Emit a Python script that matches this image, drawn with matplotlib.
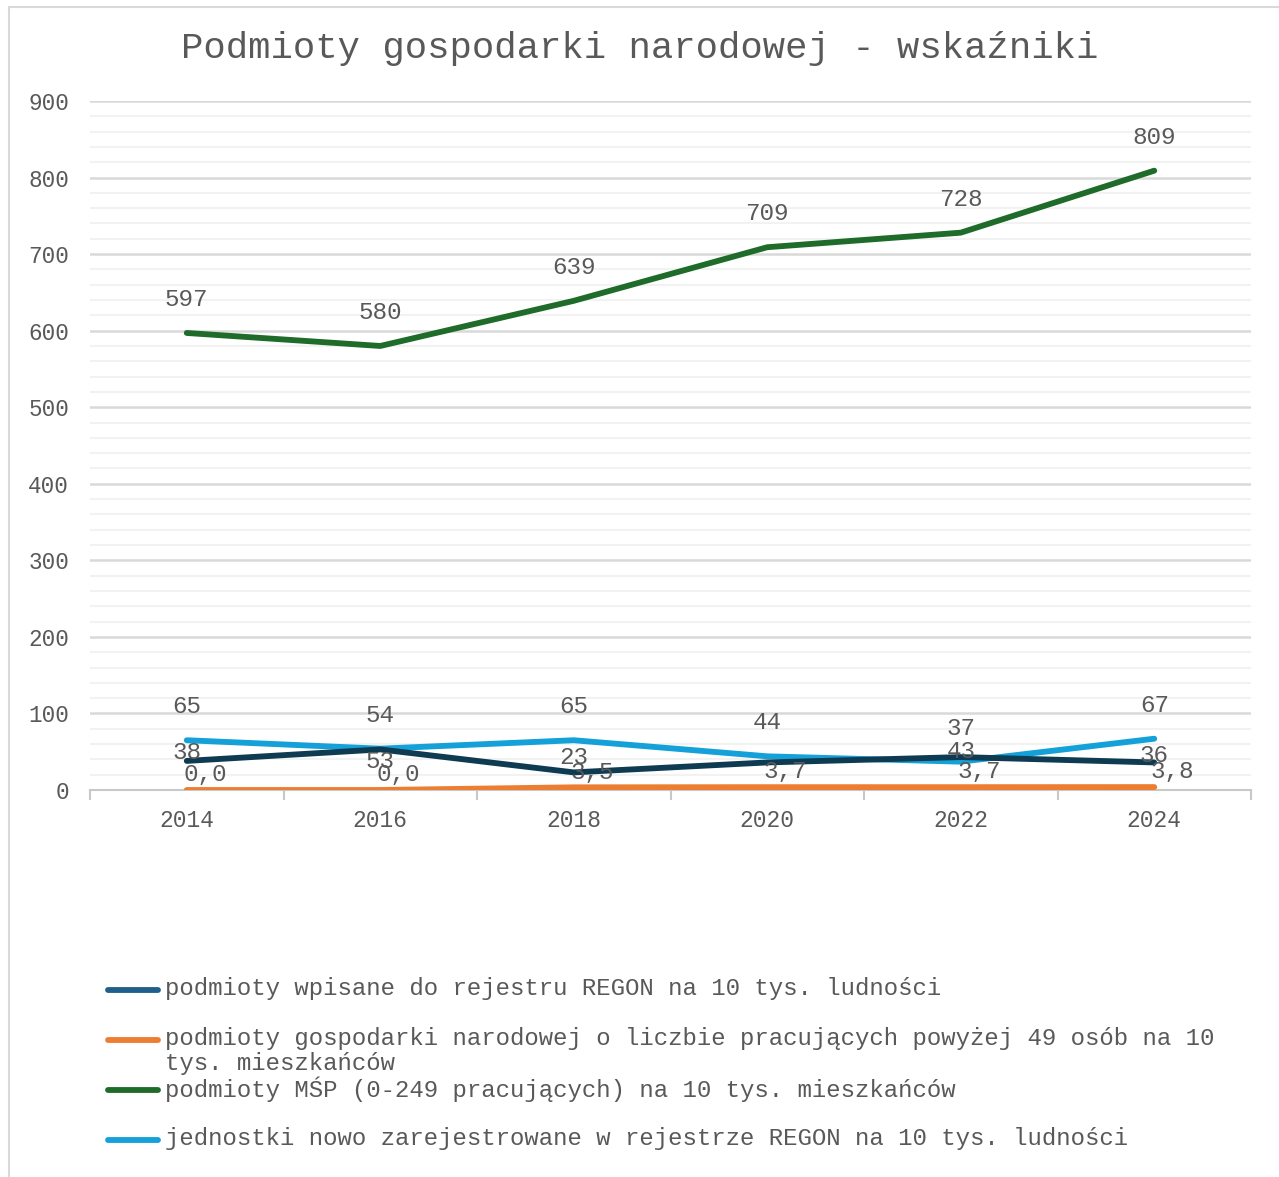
import matplotlib
matplotlib.use("Agg")
import matplotlib.pyplot as plt
from matplotlib.lines import Line2D
from matplotlib.patches import Rectangle
from matplotlib.ticker import MultipleLocator

plt.rcParams['font.family'] = ['Liberation Mono', 'DejaVu Sans Mono', 'DejaVu Sans']

years = ["2014", "2016", "2018", "2020", "2022", "2024"]
regon = [38, 53, 23, 36, 43, 36]
regon_labels = ["38", "53", "23", None, "43", "36"]
large = [0.0, 0.0, 3.5, 3.7, 3.7, 3.8]
msp = [597, 580, 639, 709, 728, 809]
new_units = [65, 54, 65, 44, 37, 67]

names = [
    "podmioty wpisane do rejestru REGON na 10 tys. ludności",
    "podmioty gospodarki narodowej o liczbie pracujących powyżej 49 osób na 10\ntys. mieszkańców",
    "podmioty MŚP (0-249 pracujących) na 10 tys. mieszkańców",
    "jednostki nowo zarejestrowane w rejestrze REGON na 10 tys. ludności",
]
title = "Podmioty gospodarki narodowej - wskaźniki"

c_navy = "#0E3A52"
c_navy_leg = "#1F5F8B"
c_orange = "#ED7D31"
c_green = "#1E6B2A"
c_cyan = "#14A0D8"
txt = "#595959"

W, H = 1279, 1177
fig = plt.figure(figsize=(W / 100, H / 100), dpi=100)
fig.patch.set_facecolor("white")

# border
fig.patches.append(Rectangle((9 / W, -0.1), 1.2, 1.1 - 7 / H, transform=fig.transFigure,
                             fill=False, edgecolor="#D9D9D9", linewidth=1.5))

ax = fig.add_axes([90 / W, 1 - 790 / H, (1251 - 90) / W, (790 - 101) / H])
x = list(range(len(years)))
lw = 4.2

ax.plot(x, new_units, color=c_cyan, lw=lw, solid_capstyle="round", zorder=3)
ax.plot(x, regon, color=c_navy, lw=lw, solid_capstyle="round", zorder=4)
ax.plot(x, large, color=c_orange, lw=lw, solid_capstyle="round", zorder=3)
ax.plot(x, msp, color=c_green, lw=lw, solid_capstyle="round", zorder=3)

fs_lab = 17.5
for xi, v in zip(x, msp):
    ax.annotate(str(v), (xi, v), xytext=(0, 24), textcoords="offset points",
                ha="center", va="center", fontsize=fs_lab, color=txt)
for xi, v in zip(x, new_units):
    ax.annotate(str(v), (xi, v), xytext=(0, 24), textcoords="offset points",
                ha="center", va="center", fontsize=fs_lab, color=txt)
navy_off = [6, -9, 11, 0, 4, 5]
for xi, v, l, o in zip(x, regon, regon_labels, navy_off):
    if l is None:
        continue
    ax.annotate(l, (xi, v), xytext=(0, o), textcoords="offset points",
                ha="center", va="center", fontsize=fs_lab, color=txt, zorder=5)
for xi, v in zip(x, large):
    ax.annotate(f"{v:.1f}".replace(".", ","), (xi, v), xytext=(13, 11), textcoords="offset points",
                ha="center", va="center", fontsize=fs_lab, color=txt, zorder=5)

ax.set_xlim(-0.5, len(years) - 0.5)
ax.set_ylim(0, 900)
ax.yaxis.set_major_locator(MultipleLocator(100))
ax.yaxis.set_minor_locator(MultipleLocator(20))
ax.grid(which="minor", axis="y", color="#F2F2F2", lw=1.5, zorder=0)
ax.grid(which="major", axis="y", color="#D9D9D9", lw=1.8, zorder=1)
ax.set_axisbelow(True)
for s in ["top", "right", "left"]:
    ax.spines[s].set_visible(False)
ax.spines["bottom"].set_color("#C8C8C8")
ax.spines["bottom"].set_linewidth(1.5)
ax.tick_params(axis="y", which="both", length=0, pad=15, labelsize=16.3, labelcolor=txt)
ax.tick_params(axis="x", which="major", length=0, pad=14, labelsize=16.5, labelcolor=txt)
ax.tick_params(axis="x", which="minor", length=7, color="#C8C8C8", width=1.5)
ax.set_xticks(x)
ax.set_xticklabels(years)
ax.set_xticks([i - 0.5 for i in range(len(years) + 1)], minor=True)

fig.text(0.5, 1 - 48 / H, title, ha="center", va="center", fontsize=26.8, color=txt)

# legend
leg_colors = [c_navy_leg, c_orange, c_green, c_cyan]
leg_y = [990, 1040, 1090, 1140]
for col, yy, name in zip(leg_colors, leg_y, names):
    fig.add_artist(Line2D([108 / W, 158 / W], [1 - yy / H, 1 - yy / H], transform=fig.transFigure,
                          color=col, lw=lw, solid_capstyle="round"))
    fig.text(165 / W, 1 - (yy - 13) / H, name, ha="left", va="top", fontsize=17.3, color=txt,
             linespacing=1.12)

fig.savefig("out.png", dpi=100, facecolor="white")
